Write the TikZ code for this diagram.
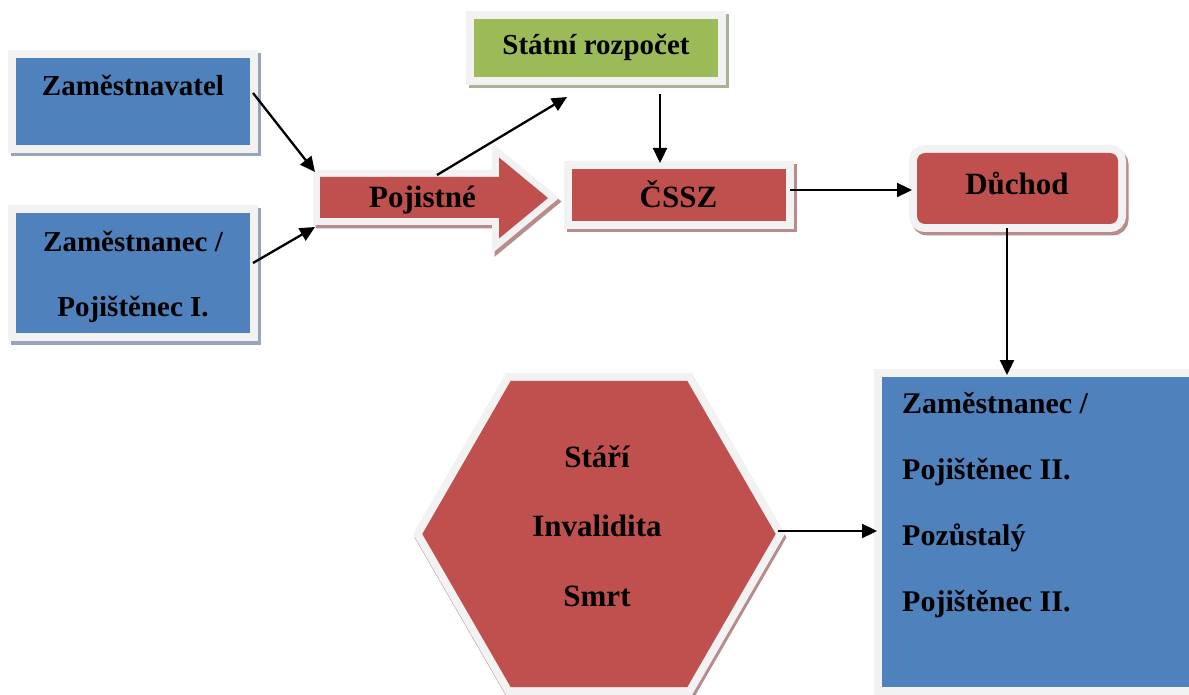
\documentclass[tikz,border=0pt]{standalone}
\usepackage{fontspec}
\setmainfont{Liberation Serif}
\usetikzlibrary{arrows.meta,shapes.geometric}
\definecolor{cblue}{HTML}{4F81BD}
\definecolor{cred}{HTML}{C0504D}
\definecolor{cgreen}{HTML}{9BBB59}
\definecolor{cframe}{HTML}{F2F2F2}
\definecolor{sblue}{RGB}{150,164,188}
\definecolor{sred}{RGB}{184,140,140}
\definecolor{sgreen}{RGB}{168,178,148}
\tikzset{
  shapebox/.style={inner sep=0pt, outer sep=0pt, line join=miter,
    preaction={draw=#1, fill=#1, line width=16pt, transform canvas={shift={(2.5pt,-3.5pt)}}},
    preaction={draw=cframe, line width=16pt}},
  bluebox/.style={shapebox=sblue, fill=cblue},
  redbox/.style={shapebox=sred, fill=cred},
  greenbox/.style={shapebox=sgreen, fill=cgreen},
  hexbox/.style={inner sep=0pt, outer sep=0pt, line join=miter, fill=cred,
    preaction={draw=sred, fill=sred, line width=16pt, transform canvas={shift={(1.5pt,-3.5pt)}}},
    preaction={draw=cframe, line width=16pt}},
  txt/.style={inner sep=0pt, outer sep=0pt, font=\bfseries\fontsize{29}{35}\selectfont, text height=19.5pt, text depth=0pt},
  bigtxt/.style={txt, font=\bfseries\fontsize{31}{37}\selectfont, text height=20.5pt},
  arr/.style={line width=2.3pt, -{Triangle[length=15pt,width=14pt]}},
}
\begin{document}
\begin{tikzpicture}[x=1pt,y=-1pt]
\clip (0,0) rectangle (1189,695);
\fill[white] (0,0) rectangle (1189,695);

% boxes
\node[bluebox, minimum width=234pt, minimum height=87pt] (zam) at (133,101.5) {};
\node[bluebox, minimum width=234pt, minimum height=120pt] (zan) at (133,273) {};
\node[greenbox, minimum width=244pt, minimum height=58pt] (sr) at (596,48) {};
\node[redbox, minimum width=214pt, minimum height=52pt] (cssz) at (679,195) {};
\node[redbox, rounded corners=8pt, minimum width=201pt, minimum height=71pt] (duch) at (1017.5,188.5) {};
\node[bluebox, minimum width=418pt, minimum height=310pt] (rbox) at (1091,532) {};
\node[hexbox, regular polygon, regular polygon sides=6, minimum size=353.4pt] (hex) at (599,534) {};

% Pojistne block arrow
\filldraw[sred, line width=14pt, line join=miter, transform canvas={shift={(2.5pt,-3.5pt)}}]
  (320,177) -- (499,177) -- (499,157.5) -- (548,198) -- (499,238.5) -- (499,218) -- (320,218) -- cycle;
\filldraw[cframe, line width=14pt, line join=miter]
  (320,177) -- (499,177) -- (499,157.5) -- (548,198) -- (499,238.5) -- (499,218) -- (320,218) -- cycle;
\fill[cred]
  (320,177) -- (499,177) -- (499,157.5) -- (548,198) -- (499,238.5) -- (499,218) -- (320,218) -- cycle;
\coordinate (pojTL) at (315,172);
\coordinate (pojBL) at (315,227);
\coordinate (pojTop) at (437,175);

% texts
\node[txt] (zamT) at (133,86) {Zaměstnavatel};
\node[inner sep=0pt, font=\bfseries\fontsize{29}{65}\selectfont, align=center] (zanT) at (133,277) {Zaměstnanec /\\Pojištěnec I.};
\node[txt] (srT) at (596,45) {Státní rozpočet};
\node[bigtxt] (poj) at (422.5,197.5) {Pojistné};
\node[bigtxt] (csszT) at (678.5,197.5) {ČSSZ};
\node[bigtxt] (duchT) at (1017,184) {Důchod};
\node[inner sep=0pt, font=\bfseries\fontsize{31}{69.2}\selectfont, align=center] (hexT) at (597,526.2) {Stáří\\Invalidita\\Smrt};
\node[inner sep=0pt, anchor=west, font=\bfseries\fontsize{30}{66}\selectfont, align=left] (rboxT) at (902,505.2) {Zaměstnanec /\\Pojištěnec II.\\Pozůstalý\\Pojištěnec II.};

% connectors
\draw[arr] ([shift={(3,-8.5)}]zam.east) -- (pojTL);
\draw[arr] ([shift={(3,-10)}]zan.east) -- (pojBL);
\draw[arr] (pojTop) -- ([shift={(-29,20)}]sr.south);
\draw[arr] ([shift={(64,17)}]sr.south) -- ([shift={(-19,-6)}]cssz.north);
\draw[arr] ([shift={(4,-5)}]cssz.east) -- ([shift={(-5,1.5)}]duch.west);
\draw[arr] ([shift={(-10.5,4)}]duch.south) -- ([shift={(125,-2)}]rbox.north west);
\draw[arr] ([shift={(2,-3)}]hex.east) -- ([shift={(-5,-1)}]rbox.west);
\end{tikzpicture}
\end{document}
